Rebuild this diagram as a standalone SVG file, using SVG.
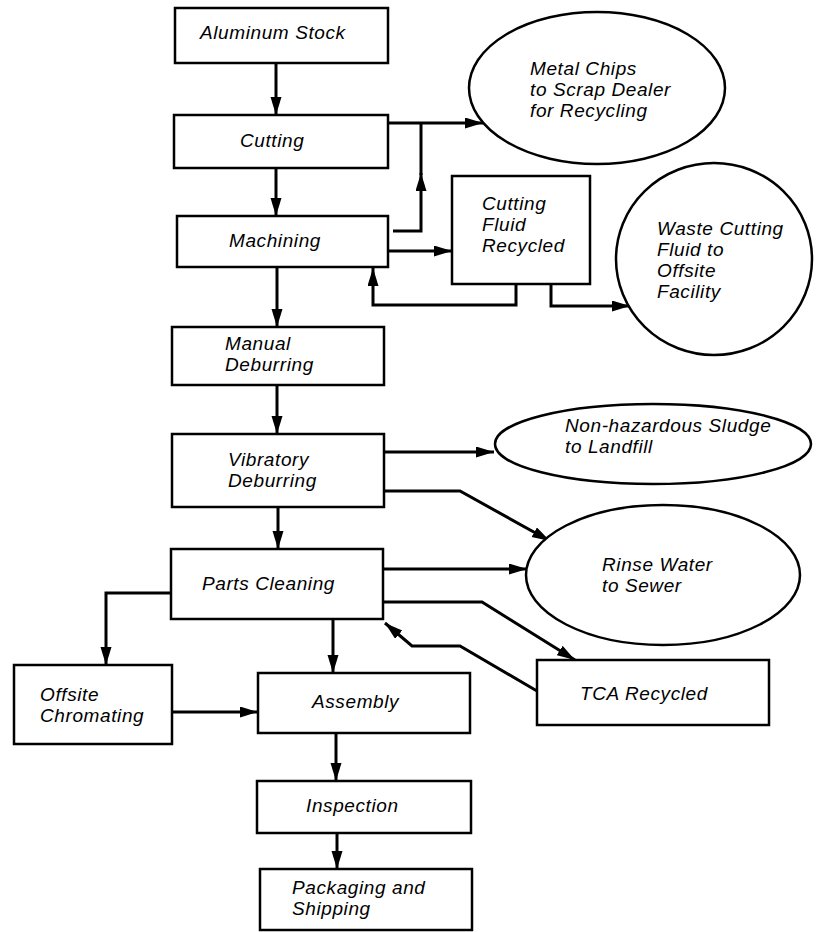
<svg xmlns="http://www.w3.org/2000/svg" width="817" height="932" viewBox="0 0 817 932">
<style>
.box{fill:#fff;stroke:#000;stroke-width:2.5}
.ell{fill:#fff;stroke:#000;stroke-width:2.5}
.t{font-family:"Liberation Sans",Arial,sans-serif;font-style:italic;font-size:19px;letter-spacing:0.6px;fill:#000}
.c{fill:none;stroke:#000;stroke-width:3;stroke-linejoin:miter}
.a{marker-end:url(#ah)}
</style>
<defs>
<marker id="ah" markerUnits="userSpaceOnUse" markerWidth="20" markerHeight="12" refX="18" refY="5.5" orient="auto">
<path d="M0,0 L18,5.5 L0,11 z" fill="#000"/>
</marker>
</defs>
<rect width="817" height="932" fill="#fff"/>
<g id="connectors">
<path class="c a" d="M276,63 V115"/>
<path class="c a" d="M388,123 H483"/>
<path class="c a" d="M276,168 V216"/>
<path class="c a" d="M393,231 H421 V173"/>
<path class="c" d="M421,175 V123"/>
<path class="c a" d="M388,251 H452"/>
<path class="c a" d="M516,284 V305 H373 V268"/>
<path class="c a" d="M551,284 V306 H630"/>
<path class="c a" d="M277,267 V327"/>
<path class="c a" d="M277,385 V434"/>
<path class="c a" d="M384,452 H494"/>
<path class="c a" d="M384,491 H460 L550,541"/>
<path class="c a" d="M278,507 V549"/>
<path class="c a" d="M383,569 H527"/>
<path class="c a" d="M383,602 H482 L575,660"/>
<path class="c a" d="M537,691 L460,646 H412 L385,623"/>
<path class="c a" d="M171,593 H106 V665"/>
<path class="c a" d="M333,619 V673"/>
<path class="c a" d="M172,712 H258"/>
<path class="c a" d="M336,733 V781"/>
<path class="c a" d="M337,833 V869"/>
</g>
<g id="aluminum-stock"><rect class="box" x="175" y="8" width="213" height="55"/><text class="t" x="200" y="39">Aluminum Stock</text></g>
<g id="cutting"><rect class="box" x="174" y="115" width="214" height="53"/><text class="t" x="240" y="147">Cutting</text></g>
<g id="metal-chips"><ellipse class="ell" cx="597" cy="88" rx="128" ry="76"/><text class="t" x="530" y="75">Metal Chips</text><text class="t" x="530" y="96">to Scrap Dealer</text><text class="t" x="530" y="117">for Recycling</text></g>
<g id="machining"><rect class="box" x="177" y="216" width="211" height="51"/><text class="t" x="229" y="247">Machining</text></g>
<g id="cutting-fluid-recycled"><rect class="box" x="452" y="176" width="138" height="108"/><text class="t" x="482" y="210">Cutting</text><text class="t" x="482" y="231">Fluid</text><text class="t" x="482" y="252">Recycled</text></g>
<g id="waste-cutting-fluid"><ellipse class="ell" cx="714" cy="259" rx="98" ry="96"/><text class="t" x="657" y="235">Waste Cutting</text><text class="t" x="657" y="256">Fluid to</text><text class="t" x="657" y="277">Offsite</text><text class="t" x="657" y="298">Facility</text></g>
<g id="manual-deburring"><rect class="box" x="172" y="327" width="212" height="58"/><text class="t" x="225" y="350">Manual</text><text class="t" x="225" y="371">Deburring</text></g>
<g id="vibratory-deburring"><rect class="box" x="172" y="434" width="212" height="73"/><text class="t" x="228" y="466">Vibratory</text><text class="t" x="228" y="487">Deburring</text></g>
<g id="sludge"><ellipse class="ell" cx="653" cy="444" rx="158" ry="40"/><text class="t" x="565" y="432">Non-hazardous Sludge</text><text class="t" x="565" y="453">to Landfill</text></g>
<g id="rinse-water"><ellipse class="ell" cx="663" cy="575" rx="137" ry="70"/><text class="t" x="602" y="571">Rinse Water</text><text class="t" x="602" y="592">to Sewer</text></g>
<g id="parts-cleaning"><rect class="box" x="171" y="549" width="212" height="70"/><text class="t" x="202" y="590">Parts Cleaning</text></g>
<g id="tca-recycled"><rect class="box" x="537" y="660" width="232" height="65"/><text class="t" x="580" y="700">TCA Recycled</text></g>
<g id="offsite-chromating"><rect class="box" x="14" y="665" width="158" height="79"/><text class="t" x="40" y="701">Offsite</text><text class="t" x="40" y="722">Chromating</text></g>
<g id="assembly"><rect class="box" x="258" y="673" width="212" height="60"/><text class="t" x="312" y="708">Assembly</text></g>
<g id="inspection"><rect class="box" x="257" y="781" width="214" height="52"/><text class="t" x="306" y="812">Inspection</text></g>
<g id="packaging-shipping"><rect class="box" x="260" y="869" width="212" height="61"/><text class="t" x="292" y="894">Packaging and</text><text class="t" x="292" y="915">Shipping</text></g>
</svg>
